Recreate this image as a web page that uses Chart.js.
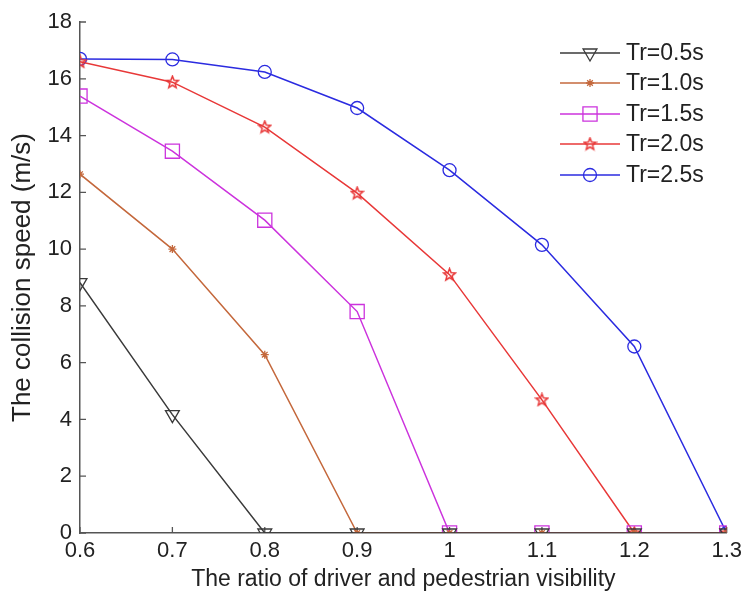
<!DOCTYPE html>
<html lang="en">
  <head>
    <meta charset="UTF-8" />
    <script src="https://cdn.jsdelivr.net/npm/chart.js@4.4.1/dist/chart.umd.min.js"></script>
    <style>
      html, body { margin: 0; padding: 0; background: #fff; }
      #wrap { width: 747px; height: 594px; }
    </style>
  </head>
  <body>
    <div id="wrap">
      <canvas id="myChart"></canvas>
    </div>

    <script>
      // data
      const ratios = [0.6, 0.7, 0.8, 0.9, 1.0, 1.1, 1.2, 1.3];
      const tr05 = [8.82, 4.17, 0, 0, 0, 0, 0, 0];
      const tr10 = [12.64, 10.0, 6.28, 0, 0, 0, 0, 0];
      const tr15 = [15.39, 13.45, 11.02, 7.8, 0, 0, 0, 0];
      const tr20 = [16.6, 15.88, 14.3, 11.97, 9.1, 4.69, 0, 0];
      const tr25 = [16.7, 16.68, 16.24, 14.97, 12.78, 10.15, 6.57, 0];
      const seriesNames = ["Tr=0.5s", "Tr=1.0s", "Tr=1.5s", "Tr=2.0s", "Tr=2.5s"];
      const xTicks = [0.6, 0.7, 0.8, 0.9, 1.0, 1.1, 1.2, 1.3];
      const xTickLabels = ["0.6", "0.7", "0.8", "0.9", "1", "1.1", "1.2", "1.3"];
      const yTicks = [0, 2, 4, 6, 8, 10, 12, 14, 16, 18];
      const yTickLabels = ["0", "2", "4", "6", "8", "10", "12", "14", "16", "18"];

      const FONT = "'Liberation Sans', Arial, sans-serif";

      // pentagram marker (no built-in one in Chart.js)
      function makeStar(color) {
        const c = document.createElement("canvas");
        c.width = 15;
        c.height = 15;
        const g = c.getContext("2d");
        g.strokeStyle = color;
        g.lineWidth = 1.5;
        g.beginPath();
        for (let i = 0; i < 10; i++) {
          const r = i % 2 === 0 ? 6.3 : 2.7;
          const a = -Math.PI / 2 + (i * Math.PI) / 5;
          const px = 7.5 + r * Math.cos(a);
          const py = 7.8 + r * Math.sin(a);
          if (i === 0) g.moveTo(px, py);
          else g.lineTo(px, py);
        }
        g.closePath();
        g.stroke();
        return c;
      }
      const redStar = makeStar("#e83838");

      function toPoints(values) {
        return values.map((v, i) => ({ x: ratios[i], y: v }));
      }

      function series(label, values, color, style, radius, rotation) {
        return {
          label: label,
          data: toPoints(values),
          borderColor: color,
          borderWidth: 1.5,
          pointStyle: style,
          pointRadius: radius,
          pointRotation: rotation || 0,
          pointBorderColor: color,
          pointBackgroundColor: "rgba(0,0,0,0)",
          pointBorderWidth: 1.3,
          tension: 0,
        };
      }

      const datasets = [
        series(seriesNames[0], tr05, "#3a3a3a", "triangle", 8, 180),
        series(seriesNames[1], tr10, "#c4683c", "star", 4),
        series(seriesNames[2], tr15, "#cc33dd", "rect", 10),
        series(seriesNames[3], tr20, "#e83838", redStar, 7),
        series(seriesNames[4], tr25, "#2b2be0", "circle", 6.5),
      ];

      // MATLAB style inward tick marks
      const inwardTicks = {
        id: "inwardTicks",
        beforeDatasetsDraw(chart) {
          const ctx = chart.ctx;
          const xs = chart.scales.x;
          const ys = chart.scales.y;
          const area = chart.chartArea;
          ctx.save();
          ctx.strokeStyle = "#555";
          ctx.lineWidth = 1.3;
          ctx.beginPath();
          xs.ticks.forEach((t) => {
            const px = xs.getPixelForValue(t.value);
            ctx.moveTo(px, area.bottom);
            ctx.lineTo(px, area.bottom - 6);
          });
          ys.ticks.forEach((t) => {
            const py = ys.getPixelForValue(t.value);
            ctx.moveTo(area.left, py);
            ctx.lineTo(area.left + 6, py);
          });
          ctx.stroke();
          ctx.restore();
        },
      };

      // legend with a line through each marker
      const lineLegend = {
        id: "lineLegend",
        afterDatasetsDraw(chart) {
          const ctx = chart.ctx;
          const rowY = [53, 83, 114, 144, 175];
          ctx.save();
          chart.data.datasets.forEach((ds, i) => {
            const y = rowY[i];
            ctx.strokeStyle = ds.borderColor;
            ctx.lineWidth = 1.5;
            ctx.beginPath();
            ctx.moveTo(560, y);
            ctx.lineTo(620, y);
            ctx.stroke();
            ctx.fillStyle = "rgba(0,0,0,0)";
            ctx.lineWidth = ds.pointBorderWidth;
            Chart.helpers.drawPoint(
              ctx,
              {
                pointStyle: ds.pointStyle,
                radius: ds.pointRadius,
                rotation: ds.pointRotation,
                borderWidth: ds.pointBorderWidth,
              },
              590,
              y
            );
            ctx.fillStyle = "#222";
            ctx.font = "23px " + FONT;
            ctx.textAlign = "left";
            ctx.textBaseline = "middle";
            ctx.fillText(ds.label, 626, y + 1);
          });
          ctx.restore();
        },
      };

      const ctx = document.getElementById("myChart").getContext("2d");
      const myChart = new Chart(ctx, {
        type: "line",
        data: { datasets: datasets },
        plugins: [inwardTicks, lineLegend],
        options: {
          responsive: true,
          maintainAspectRatio: false,
          animation: false,
          layout: {
            padding: { top: 22, right: 16, left: 0, bottom: 0 },
          },
          plugins: {
            legend: { display: false },
            tooltip: { enabled: false },
          },
          scales: {
            x: {
              type: "linear",
              min: 0.6,
              max: 1.3,
              afterBuildTicks: (scale) => {
                scale.ticks = xTicks.map((v) => ({ value: v }));
              },
              afterFit: (scale) => {
                scale.height = 61;
              },
              grid: { display: false, drawTicks: false },
              border: { color: "#555", width: 1.5 },
              ticks: {
                padding: 5,
                color: "#222",
                font: { family: FONT, size: 22 },
                maxRotation: 0,
                autoSkip: false,
                callback: (value, index) => xTickLabels[index],
              },
              title: {
                display: true,
                text: "The ratio of driver and pedestrian visibility",
                color: "#222",
                font: { family: FONT, size: 23 },
                padding: 1,
              },
            },
            y: {
              min: 0,
              max: 18,
              afterBuildTicks: (scale) => {
                scale.ticks = yTicks.map((v) => ({ value: v }));
              },
              afterFit: (scale) => {
                scale.width = 80;
              },
              grid: { display: false, drawTicks: false },
              border: { color: "#555", width: 1.5 },
              ticks: {
                padding: 8,
                color: "#222",
                font: { family: FONT, size: 22 },
                autoSkip: false,
                callback: (value, index) => yTickLabels[index],
              },
              title: {
                display: true,
                text: "The collision speed (m/s)",
                color: "#222",
                font: { family: FONT, size: 26 },
                padding: 7,
              },
            },
          },
        },
      });
    </script>
  </body>
</html>
